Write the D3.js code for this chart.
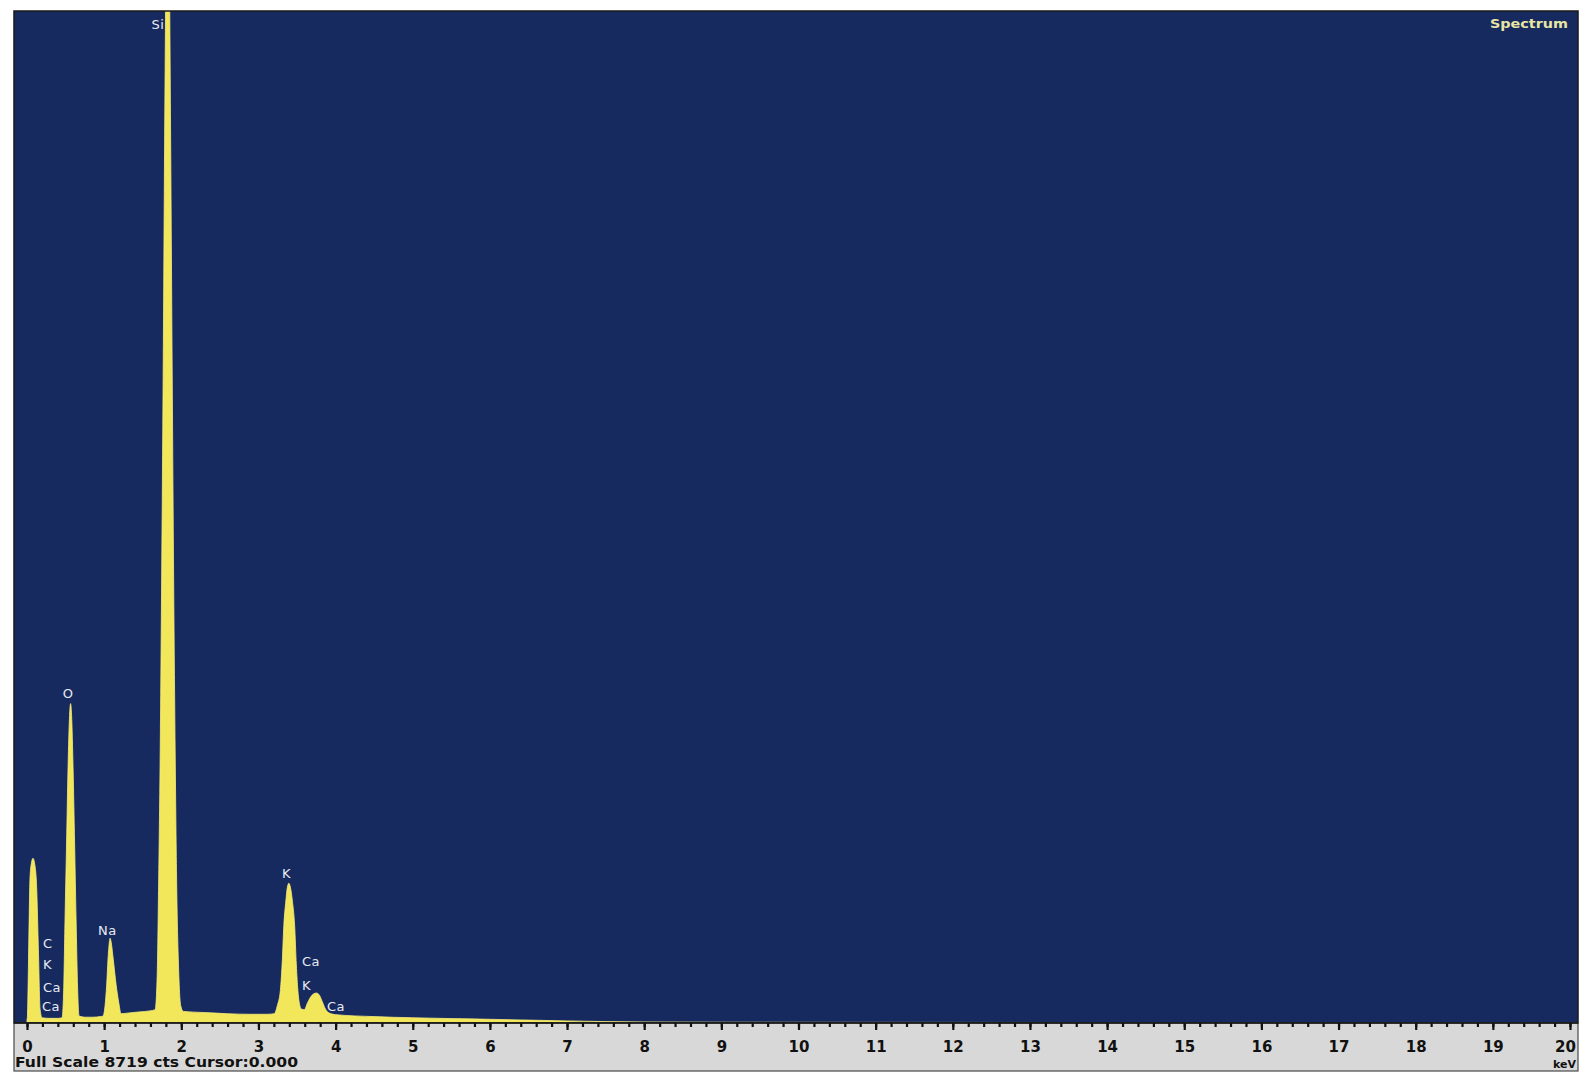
<!DOCTYPE html>
<html>
<head>
<meta charset="utf-8">
<script src="https://cdn.jsdelivr.net/npm/d3@7"></script>
<style>
  html, body { margin: 0; padding: 0; background: #ffffff; }
  svg { display: block; }
</style>
</head>
<body>
<svg id="chart" width="1581" height="1078"></svg>
<script>
// ---- Data ----
const fullScale = 8719; // cts
const energies = [
  0.000, 0.006, 0.019, 0.039, 0.058, 0.078, 0.097, 0.123, 0.149, 0.169, 0.195, 0.30, 0.40,
  0.454, 0.474, 0.493, 0.513, 0.532, 0.552, 0.565, 0.578, 0.597, 0.617, 0.636, 0.656, 0.675,
  0.75, 0.85, 0.95, 0.986, 1.012, 1.032, 1.051, 1.068, 1.077, 1.090, 1.116, 1.155, 1.188, 1.220,
  1.30, 1.45, 1.60, 1.661, 1.687, 1.706, 1.726, 1.745, 1.765, 1.784, 1.804, 1.823, 1.843, 1.862,
  1.882, 1.901, 1.921, 1.940, 1.966, 1.992, 2.025, 2.3, 2.6, 2.9, 3.1,
  3.206, 3.245, 3.284, 3.310, 3.329, 3.355, 3.375, 3.394, 3.414, 3.440, 3.469, 3.491, 3.511, 3.530,
  3.556, 3.595, 3.634, 3.673, 3.712, 3.751, 3.790, 3.829, 3.868, 3.907,
  4.0, 4.5, 5.0, 5.5, 6.0, 6.5, 7.0, 7.5, 8.0, 9.0, 10.0, 12.0, 14.0, 16.0, 18.0, 20.0, 20.13
];
const counts = [
  30, 60, 500, 1250, 1380, 1419, 1380, 1200, 600, 120, 45, 40, 40,
  45, 250, 900, 1550, 2200, 2650, 2752, 2650, 2200, 1550, 900, 300, 60,
  50, 50, 55, 60, 150, 320, 560, 700, 731, 700, 560, 330, 180, 80,
  85, 95, 105, 115, 400, 1200, 2300, 3800, 5600, 7600, 9300, 9900, 9300, 7600,
  5600, 3800, 2300, 1200, 450, 150, 100, 90, 80, 75, 75,
  80, 150, 280, 550, 840, 1050, 1170, 1204, 1170, 1050, 840, 500, 280, 170,
  120, 115, 170, 220, 250, 258, 240, 180, 120, 90,
  72, 55, 45, 38, 32, 25, 18, 12, 9, 7, 6, 5, 4, 3, 3, 2, 2
];
const majorTicks = d3.range(0, 21, 1);
const tickLabels = majorTicks.map(String);
const minorTicks = d3.range(0, 100.5, 1).map(i => i * 0.2);
// element annotations: name, energy (left edge), counts (vertical centre)
const labelNames  = ["Si", "O", "Na", "C", "K", "Ca", "Ca", "K", "Ca", "K", "Ca"];
const labelEnergy = [1.615, 0.463, 0.920, 0.207, 0.207, 0.207, 0.194, 3.305, 3.564, 3.564, 3.889];
const labelCounts = [8599, 2843, 793, 689, 500, 310, 138, 1284, 526, 319, 146];
const titleText = "Spectrum";
const footerText = "Full Scale " + fullScale + " cts Cursor:0.000";
const unitText = "keV";

// ---- Layout ----
const plotL = 14, plotT = 11, plotR = 1578, plotB = 1023, stripB = 1071;
const svg = d3.select("#chart");

const x = d3.scaleLinear().domain([0, 20]).range([27, 1570]);
const y = d3.scaleLinear().domain([0, fullScale]).range([plotB, plotT]);

svg.append("rect").attr("x", 0).attr("y", 0).attr("width", 1581).attr("height", 1078).attr("fill", "#ffffff");

svg.append("defs").append("clipPath").attr("id", "plotClip")
  .append("rect").attr("x", plotL).attr("y", plotT).attr("width", plotR - plotL).attr("height", plotB - plotT);

svg.append("rect")
  .attr("x", plotL).attr("y", plotT).attr("width", plotR - plotL).attr("height", plotB - plotT)
  .attr("fill", "#172a5f");

const spectrum = energies.map((e, i) => ({ e, c: counts[i] }));
const area = d3.area()
  .x(d => x(d.e))
  .y0(y(0))
  .y1(d => y(d.c))
  .curve(d3.curveMonotoneX);

svg.append("g").attr("clip-path", "url(#plotClip)")
  .append("path")
  .datum(spectrum)
  .attr("d", area)
  .attr("fill", "#f2e65a")
  .attr("stroke", "#f7ee7a")
  .attr("stroke-width", 0.8);

// plot border
svg.append("rect")
  .attr("x", plotL).attr("y", plotT).attr("width", plotR - plotL).attr("height", plotB - plotT)
  .attr("fill", "none").attr("stroke", "#1a1a1a").attr("stroke-width", 1.5);

// element labels
svg.append("g").selectAll("text")
  .data(labelNames)
  .join("text")
  .attr("x", (d, i) => x(labelEnergy[i]))
  .attr("y", (d, i) => y(labelCounts[i]))
  .attr("dominant-baseline", "central")
  .attr("font-family", "DejaVu Sans, sans-serif")
  .attr("font-size", 13)
  .attr("letter-spacing", 0.5)
  .attr("fill", "#e6eaf2")
  .text(d => d);

// title
svg.append("text")
  .attr("x", 1490).attr("y", 23)
  .attr("dominant-baseline", "central")
  .attr("font-family", "DejaVu Sans, sans-serif")
  .attr("font-weight", "bold")
  .attr("font-size", 13)
  .attr("textLength", 78).attr("lengthAdjust", "spacingAndGlyphs")
  .attr("fill", "#e8e6a6")
  .text(titleText);

// axis strip
svg.append("rect")
  .attr("x", plotL).attr("y", plotB).attr("width", plotR - plotL).attr("height", stripB - plotB)
  .attr("fill", "#d8d8d8").attr("stroke", "#4a4a4a").attr("stroke-width", 1.2);

const minorAxis = d3.axisBottom(x).tickValues(minorTicks).tickSize(4).tickFormat("");
const gMinor = svg.append("g").attr("transform", `translate(0,${plotB})`).call(minorAxis);
gMinor.select(".domain").remove();
gMinor.selectAll(".tick line").attr("stroke", "#111").attr("stroke-width", 2.2);

const majorAxis = d3.axisBottom(x).tickValues(majorTicks).tickSize(7)
  .tickFormat((d, i) => tickLabels[i]);
const gMajor = svg.append("g").attr("transform", `translate(0,${plotB})`).call(majorAxis);
gMajor.select(".domain").attr("stroke", "#111").attr("stroke-width", 1.5)
  .attr("d", `M${plotL},0H${plotR}`);
gMajor.selectAll(".tick line").attr("stroke", "#111").attr("stroke-width", 2.2);
gMajor.selectAll(".tick text")
  .attr("y", 29).attr("dy", 0)
  .attr("font-family", "DejaVu Sans, sans-serif")
  .attr("font-weight", "bold")
  .attr("font-size", 15)
  .attr("fill", "#111");
// keep the last label inside the strip
gMajor.selectAll(".tick text").filter(d => d === 20).attr("x", -5);

// footer
svg.append("text")
  .attr("x", 15).attr("y", 1067)
  .attr("font-family", "DejaVu Sans, sans-serif")
  .attr("font-weight", "bold")
  .attr("font-size", 14)
  .attr("textLength", 283).attr("lengthAdjust", "spacingAndGlyphs")
  .attr("fill", "#111")
  .text(footerText);

svg.append("text")
  .attr("x", 1576).attr("y", 1068)
  .attr("text-anchor", "end")
  .attr("font-family", "DejaVu Sans, sans-serif")
  .attr("font-weight", "bold")
  .attr("font-size", 11)
  .attr("fill", "#111")
  .text(unitText);
</script>
</body>
</html>
